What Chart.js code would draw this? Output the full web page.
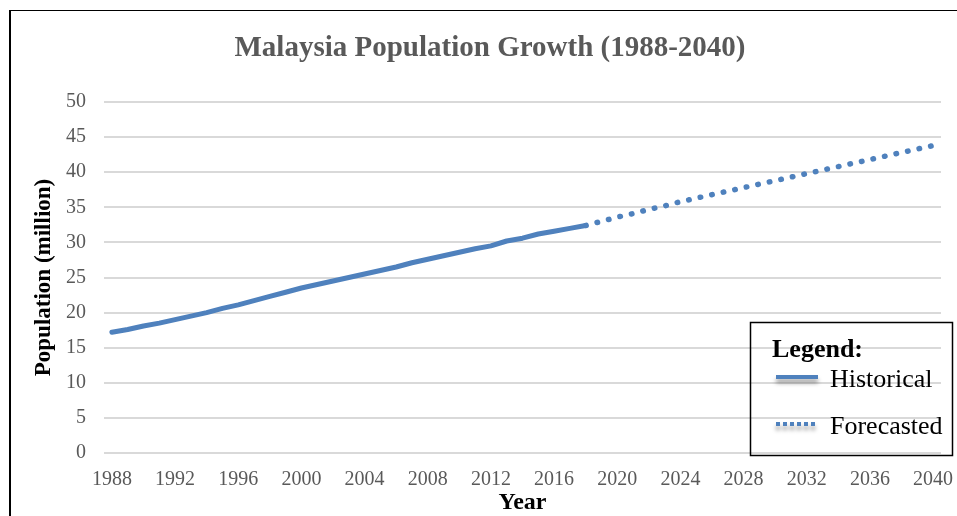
<!DOCTYPE html>
<html>
<head>
<meta charset="utf-8">
<title>Malaysia Population Growth</title>
<script src="https://cdn.jsdelivr.net/npm/chart.js@4"></script>
<style>
    html, body { margin: 0; padding: 0; background: #fff; overflow: hidden; }
    #wrap { position: absolute; left: 0; top: 0; width: 957px; height: 516px; }
    #frame {
        position: absolute; left: 9px; top: 10px; width: 1000px; height: 600px;
        border-left: 2px solid #000; border-top: 1px solid #000;
        pointer-events: none;
    }
</style>
</head>
<body>
<div id="wrap"><canvas id="popChart"></canvas></div>
<div id="frame"></div>
<script>
// Years on the category axis (a label is shown every 4 years)
const years = [];
for (let y = 1988; y <= 2040; y++) years.push(String(y));

// Historical population, 1988-2018 (million)
const historical = [
    17.2, 17.6, 18.1, 18.5, 19.0, 19.5, 20.0, 20.6, 21.1, 21.7,
    22.3, 22.9, 23.5, 24.0, 24.5, 25.0, 25.5, 26.0, 26.5, 27.1,
    27.6, 28.1, 28.6, 29.1, 29.5, 30.2, 30.6, 31.2, 31.6, 32.0,
    32.4
];

// Forecasted population, 2018-2040 (million)
const forecasted = [
    32.4, 33.0, 33.6, 34.1, 34.7, 35.2, 35.8, 36.3, 36.8, 37.3,
    37.8, 38.3, 38.8, 39.3, 39.8, 40.3, 40.8, 41.3, 41.8, 42.3,
    42.8, 43.3, 43.8
];

const yTicks = [0, 5, 10, 15, 20, 25, 30, 35, 40, 45, 50];

const SERIF = "'Liberation Serif', 'Times New Roman', serif";
const BLUE = '#4f81bd';

// pad series with nulls so they line up with the year labels
const histData = historical.concat(new Array(years.length - historical.length).fill(null));
const foreData = new Array(years.length - forecasted.length).fill(null).concat(forecasted);

// Boxed legend sitting over the bottom right of the plot
const boxLegend = {
    id: 'boxLegend',
    afterDraw(chart) {
        const ctx = chart.ctx;
        const bx = 750.5, by = 322.5, bw = 202, bh = 133;
        ctx.save();
        ctx.strokeStyle = '#000';
        ctx.lineWidth = 1.5;
        ctx.strokeRect(bx, by, bw, bh);

        ctx.fillStyle = '#000';
        ctx.textBaseline = 'alphabetic';
        ctx.textAlign = 'left';
        ctx.font = 'bold 26px ' + SERIF;
        ctx.fillText('Legend:', 772, 357);

        const rows = [377, 424];
        chart.data.datasets.forEach((ds, i) => {
            const y = rows[i];
            ctx.save();
            ctx.shadowColor = 'rgba(0,0,0,0.4)';
            ctx.shadowBlur = 4;
            ctx.shadowOffsetY = 4;
            ctx.strokeStyle = ds.borderColor;
            ctx.lineWidth = 4;
            ctx.setLineDash(ds.borderDash ? [4, 3] : []);
            ctx.beginPath();
            ctx.moveTo(776, y);
            ctx.lineTo(818, y);
            ctx.stroke();
            ctx.restore();

            ctx.font = '26px ' + SERIF;
            ctx.fillStyle = '#000';
            ctx.fillText(ds.label, 830, y + 10);
        });
        ctx.restore();
    }
};

new Chart(document.getElementById('popChart'), {
    type: 'line',
    data: {
        labels: years,
        datasets: [
            {
                label: 'Historical',
                data: histData,
                borderColor: BLUE,
                borderWidth: 5,
                borderCapStyle: 'round',
                borderJoinStyle: 'round',
                pointRadius: 0,
                tension: 0,
                spanGaps: false
            },
            {
                label: 'Forecasted',
                data: foreData,
                borderColor: BLUE,
                borderWidth: 5.5,
                borderDash: [0.5, 11.3],
                borderCapStyle: 'round',
                pointRadius: 0,
                tension: 0,
                spanGaps: false
            }
        ]
    },
    options: {
        responsive: true,
        maintainAspectRatio: false,
        animation: false,
        layout: { padding: { left: 39, right: 16, top: 0, bottom: 0 } },
        plugins: {
            legend: { display: false },
            tooltip: { enabled: false },
            title: {
                display: true,
                text: 'Malaysia Population Growth (1988-2040)',
                color: '#595959',
                font: { family: SERIF, size: 29, weight: 'bold', lineHeight: 1.2 },
                padding: { top: 31, bottom: 36.2 }
            }
        },
        scales: {
            x: {
                type: 'category',
                offset: true,
                grid: { display: false, drawTicks: false },
                border: { display: false },
                ticks: {
                    autoSkip: false,
                    maxRotation: 0,
                    padding: 15,
                    color: '#595959',
                    font: { family: SERIF, size: 20 },
                    callback: function(value, index) {
                        return index % 4 === 0 ? this.getLabelForValue(value) : null;
                    }
                },
                title: {
                    display: true,
                    text: 'Year',
                    color: '#000',
                    font: { family: SERIF, size: 24, weight: 'bold', lineHeight: 1 },
                    padding: { top: 0, bottom: 1 }
                },
                afterFit: (scale) => {
                    scale.height = 63;
                    scale.paddingLeft = 0;
                    scale.paddingRight = 0;
                }
            },
            y: {
                min: 0,
                max: 50,
                grid: { color: '#d9d9d9', lineWidth: 2, drawTicks: false },
                border: { display: false },
                afterBuildTicks: (scale) => { scale.ticks = yTicks.map(v => ({ value: v })); },
                ticks: {
                    padding: 18,
                    color: '#595959',
                    font: { family: SERIF, size: 20 }
                },
                title: {
                    display: true,
                    text: 'Population (million)',
                    color: '#000',
                    font: { family: SERIF, size: 23, weight: 'bold', lineHeight: 1 },
                    padding: { top: -6.5, bottom: 0 }
                },
                afterFit: (scale) => {
                    scale.width = 65;
                    scale.paddingTop = 0;
                    scale.paddingBottom = 0;
                }
            }
        }
    },
    plugins: [boxLegend]
});
</script>
</body>
</html>
